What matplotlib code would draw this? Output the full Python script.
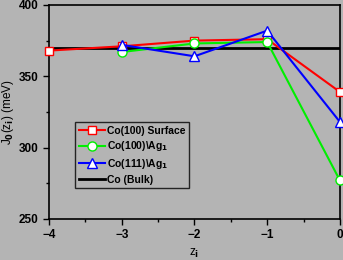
"""Exchange coupling J0(z_i) per layer for Co surfaces and Ag-covered films."""

import matplotlib

matplotlib.use("Agg")

import matplotlib.pyplot as plt
from matplotlib.ticker import MultipleLocator


Z_SURFACE = [-4, -3, -2, -1, 0]
J_SURFACE = [368, 371, 375, 376, 339]

Z_AG100 = [-3, -2, -1, 0]
J_AG100 = [367, 373, 374, 277]

Z_AG111 = [-3, -2, -1, 0]
J_AG111 = [372, 364, 382, 318]

J_BULK = 370

LABELS = ["Co(100) Surface", r"Co(100)\Ag$_1$", r"Co(111)\Ag$_1$", "Co (Bulk)"]

BG = "#b4b4b4"

plt.rcParams["font.family"] = ["Liberation Sans", "DejaVu Sans"]
plt.rcParams["font.weight"] = "bold"
plt.rcParams["mathtext.default"] = "bf"

fig = plt.figure(figsize=(3.43, 2.60), dpi=100, facecolor=BG)
ax = fig.add_axes([0.143, 0.158, 0.848, 0.823], facecolor=BG)

ax.axhline(J_BULK, color="black", linewidth=2, label=LABELS[3], zorder=2)
ax.plot(Z_SURFACE, J_SURFACE, color="#ff0000", linewidth=1.5, marker="s",
        markersize=5.5, markerfacecolor="white", markeredgecolor="#ff0000",
        markeredgewidth=1, label=LABELS[0], zorder=3, clip_on=False)
ax.plot(Z_AG100, J_AG100, color="#00ee00", linewidth=1.5, marker="o",
        markersize=6.5, markerfacecolor="white", markeredgecolor="#00ee00",
        markeredgewidth=1, label=LABELS[1], zorder=3, clip_on=False)
ax.plot(Z_AG111, J_AG111, color="#0000ff", linewidth=1.5, marker="^",
        markersize=7, markerfacecolor="white", markeredgecolor="#0000ff",
        markeredgewidth=1, label=LABELS[2], zorder=4, clip_on=False)

ax.set_xlim(-4, 0)
ax.set_ylim(250, 400)
ax.xaxis.set_major_locator(MultipleLocator(1))
ax.xaxis.set_minor_locator(MultipleLocator(0.5))
ax.yaxis.set_major_locator(MultipleLocator(50))
ax.yaxis.set_minor_locator(MultipleLocator(25))
ax.tick_params(which="major", direction="out", length=4, width=1, labelsize=8.5)
ax.tick_params(which="minor", direction="out", length=2.5, width=1)
for spine in ax.spines.values():
    spine.set_linewidth(1.2)

ax.set_xlabel(r"z$_\mathbf{i}$", fontsize=8.5, labelpad=4)
ax.set_ylabel(r"J$_0$(z$_\mathbf{i}$) (meV)", fontsize=8.5, labelpad=2)

handles, labels = ax.get_legend_handles_labels()
order = [1, 2, 3, 0]
leg = ax.legend([handles[i] for i in order], [labels[i] for i in order],
                loc="upper left", bbox_to_anchor=(0.089, 0.453), fontsize=7.5,
                frameon=True, fancybox=False, facecolor=BG, edgecolor="black",
                handlelength=2.5, handletextpad=0.2, borderpad=0.35,
                labelspacing=0.35, borderaxespad=0)
leg.get_frame().set_linewidth(1)

fig.savefig("out.png", dpi=100, facecolor=BG)
